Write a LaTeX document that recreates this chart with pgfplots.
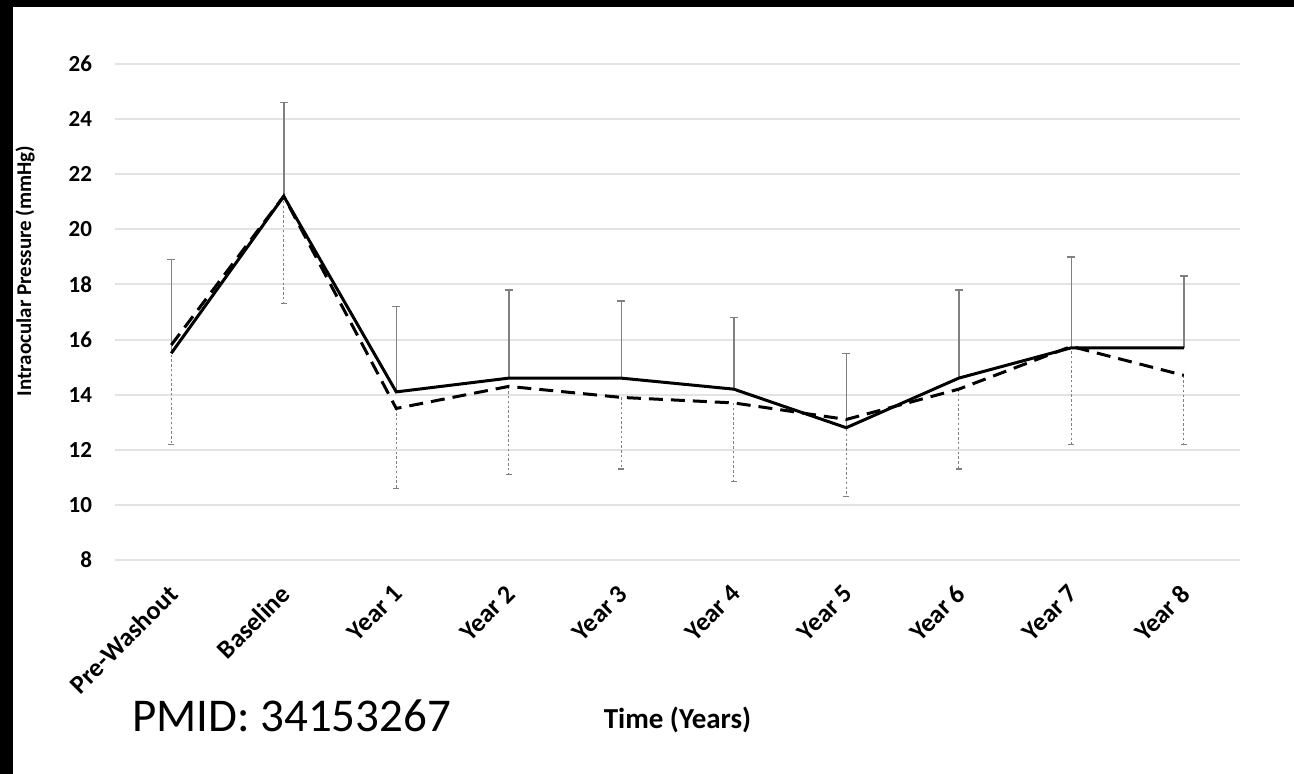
\documentclass[border=0pt]{standalone}
\usepackage{fontspec}
\setmainfont{Carlito}
\usepackage{pgfplots}
\pgfplotsset{compat=1.18}
\usepackage{pgfplotstable}

% x: category index; s: solid line; sp: upper SD; d: dashed line; dm: lower SD
\pgfplotstableread{
x s    sp  d     dm
0 15.5 3.4 15.8  3.6
1 21.2 3.4 21.2  3.9
2 14.1 3.1 13.5  2.9
3 14.6 3.2 14.3  3.2
4 14.6 2.8 13.9  2.6
5 14.2 2.6 13.7  2.85
6 12.8 2.7 13.1  2.8
7 14.6 3.2 14.2  2.9
8 15.7 3.3 15.75 3.55
9 15.7 2.6 14.7  2.5
}\data

\begin{document}
\begin{tikzpicture}
\fill[black] (0,0) rectangle (647pt,387pt);
\fill[white] (6.5pt,0) rectangle (647pt,383.5pt);
\begin{axis}[
  at={(57.5pt,107pt)}, anchor=south west,
  scale only axis, width=562.5pt, height=248pt,
  xmin=-0.5, xmax=9.5, ymin=8, ymax=26,
  ytick={8,10,...,26},
  xtick={0,...,9},
  xticklabels={Pre-Washout,Baseline,Year 1,Year 2,Year 3,Year 4,Year 5,Year 6,Year 7,Year 8},
  axis line style={draw=none},
  major tick style={draw=none},
  ymajorgrids,
  grid style={draw=gray!22, line width=1pt},
  /pgf/number format/assume math mode=true,
  xticklabel style={rotate=45, anchor=east, font=\bfseries\fontsize{13}{15}\selectfont, yshift=-11.2pt, xshift=-6.3pt},
  yticklabel style={font=\bfseries\fontsize{11.5}{13}\selectfont, xshift=-8pt},
  xlabel={Time (Years)},
  xlabel style={at={(axis description cs:0.5,0)}, anchor=center, yshift=-80pt, font=\bfseries\fontsize{14.5}{16}\selectfont},
  ylabel={Intraocular Pressure (mmHg)},
  ylabel style={at={(axis description cs:-0.08,0.583)}, anchor=center, font=\bfseries\fontsize{10.5}{12}\selectfont},
  clip=false,
]
% upper SD bars (solid gray)
\addplot[forget plot, draw=none, mark=none,
  error bars/.cd, y dir=plus, y explicit,
  error bar style={draw=gray, solid, line width=0.75pt},
  error mark options={draw=gray, solid, line width=0.75pt, mark size=2pt, rotate=90}]
  table[x=x, y=s, y error plus=sp] {\data};
% lower SD bars (dotted gray)
\addplot[forget plot, draw=none, mark=none,
  error bars/.cd, y dir=minus, y explicit,
  error bar style={draw=gray, dash pattern=on 1.2pt off 1.2pt, line width=0.6pt},
  error mark options={draw=gray, solid, line width=0.6pt, mark size=1.5pt, rotate=90}]
  table[x=x, y=d, y error minus=dm] {\data};
% main lines
\addplot[black, line width=1.5pt, dash pattern=on 7pt off 4pt, mark=none] table[x=x, y=d] {\data};
\addplot[black, line width=1.5pt, solid, mark=none] table[x=x, y=s] {\data};
\end{axis}
\node[anchor=base, font=\fontsize{23.5}{26}\selectfont] at (145.75pt,21pt) {PMID: 34153267};
\pgfresetboundingbox
\path (0,0) rectangle (647pt,387pt);
\end{tikzpicture}
\end{document}
